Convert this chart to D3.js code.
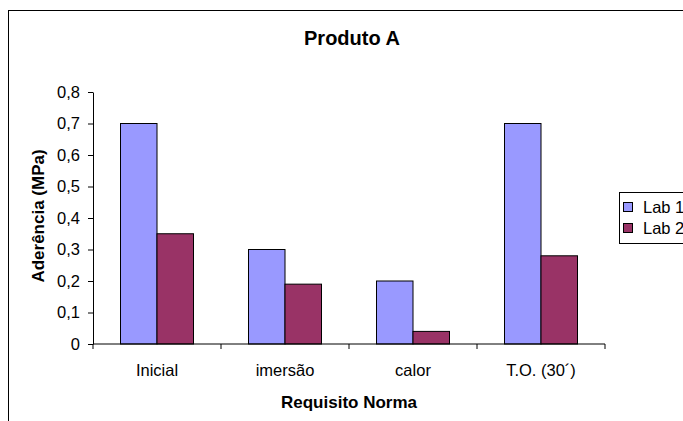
<!DOCTYPE html>
<html>
<head>
  <script src="https://d3js.org/d3.v7.min.js"></script>
  <style>
    body { margin: 0; background: #fff; }
    svg { font-family: "Liberation Sans", Arial, sans-serif; }
    .tick text { font-size: 16.5px; fill: #000; font-family: "Liberation Sans", Arial, sans-serif; }
    .axis-label { font-size: 17px; font-weight: bold; }
    .title { font-size: 20px; font-weight: bold; }
    .legend { font-size: 16.5px; }
  </style>
</head>
<body>
  <div id="chart"></div>
  <script>
    const categories = ["Inicial", "imersão", "calor", "T.O. (30´)"];
    const seriesNames = ["Lab 1", "Lab 2"];
    const lab1 = [0.7, 0.3, 0.2, 0.7];
    const lab2 = [0.35, 0.19, 0.04, 0.28];
    const yTicks = [0, 0.1, 0.2, 0.3, 0.4, 0.5, 0.6, 0.7, 0.8];

    const data = categories.map((c, i) => ({ cat: c, "Lab 1": lab1[i], "Lab 2": lab2[i] }));

    const W = 683, H = 421;
    const margin = { top: 92, left: 93 };
    const width = 605 - 93, height = 344 - 92;

    const svg = d3.select("#chart").append("svg")
      .attr("width", W).attr("height", H);

    // chart area border
    svg.append("rect")
      .attr("x", 8.5).attr("y", 10.5)
      .attr("width", 690).attr("height", 430)
      .attr("fill", "none").attr("stroke", "#000").attr("stroke-width", 1);

    const g = svg.append("g").attr("transform", `translate(${margin.left},${margin.top})`);

    const x = d3.scaleBand().domain(categories).range([0, width]);
    const groupW = 73;
    const x1 = d3.scaleBand().domain(seriesNames).range([(x.bandwidth() - groupW) / 2, (x.bandwidth() + groupW) / 2]);
    const y = d3.scaleLinear().domain([0, 0.8]).range([height, 0]);
    const color = d3.scaleOrdinal().domain(seriesNames).range(["#9999FF", "#993366"]);
    const fmt = d => d3.format(".1~f")(d).replace(".", ",");

    // bars
    g.append("g").selectAll("g")
      .data(data).enter().append("g")
      .attr("transform", d => `translate(${x(d.cat)},0)`)
      .selectAll("rect")
      .data(d => seriesNames.map(k => ({ key: k, value: d[k] })))
      .enter().append("rect")
      .attr("x", d => x1(d.key))
      .attr("y", d => y(d.value))
      .attr("width", x1.bandwidth())
      .attr("height", d => height - y(d.value))
      .attr("fill", d => color(d.key))
      .attr("stroke", "#000").attr("stroke-width", 1);

    // y axis
    g.append("g")
      .call(d3.axisLeft(y).tickValues(yTicks).tickFormat(fmt).tickSize(5).tickSizeOuter(0).tickPadding(8));

    // x axis with ticks at band boundaries
    const xa = g.append("g").attr("transform", `translate(0,${height})`);
    xa.append("line").attr("x1", 0).attr("x2", width).attr("stroke", "#000");
    xa.selectAll("line.tk")
      .data(categories.concat(["end"])).enter().append("line")
      .attr("class", "tk")
      .attr("x1", (d, i) => i * x.bandwidth()).attr("x2", (d, i) => i * x.bandwidth())
      .attr("y1", 0).attr("y2", 5).attr("stroke", "#000");
    xa.selectAll("text")
      .data(categories).enter().append("text")
      .attr("x", d => x(d) + x.bandwidth() / 2)
      .attr("y", 32)
      .attr("text-anchor", "middle")
      .attr("font-size", 16.5)
      .text(d => d);

    // titles
    svg.append("text").attr("class", "title")
      .attr("x", 352).attr("y", 45).attr("text-anchor", "middle")
      .text("Produto A");

    svg.append("text").attr("class", "axis-label")
      .attr("x", 349).attr("y", 408).attr("text-anchor", "middle")
      .text("Requisito Norma");

    svg.append("text").attr("class", "axis-label")
      .attr("transform", "rotate(-90)")
      .attr("x", -216).attr("y", 44).attr("text-anchor", "middle")
      .text("Aderência (MPa)");

    // legend
    const legend = svg.append("g").attr("class", "legend").attr("transform", "translate(619,192)");
    legend.append("rect").attr("x", 0.5).attr("y", 0.5).attr("width", 80).attr("height", 51)
      .attr("fill", "#fff").attr("stroke", "#000");
    const items = legend.selectAll("g.item").data(seriesNames).enter().append("g")
      .attr("class", "item")
      .attr("transform", (d, i) => `translate(4,${10 + i * 21})`);
    items.append("rect").attr("x", 0.5).attr("y", 0.5).attr("width", 9).attr("height", 9)
      .attr("fill", d => color(d)).attr("stroke", "#000");
    items.append("text").attr("x", 20).attr("y", 5).attr("dy", "0.35em").text(d => d);
  </script>
</body>
</html>
